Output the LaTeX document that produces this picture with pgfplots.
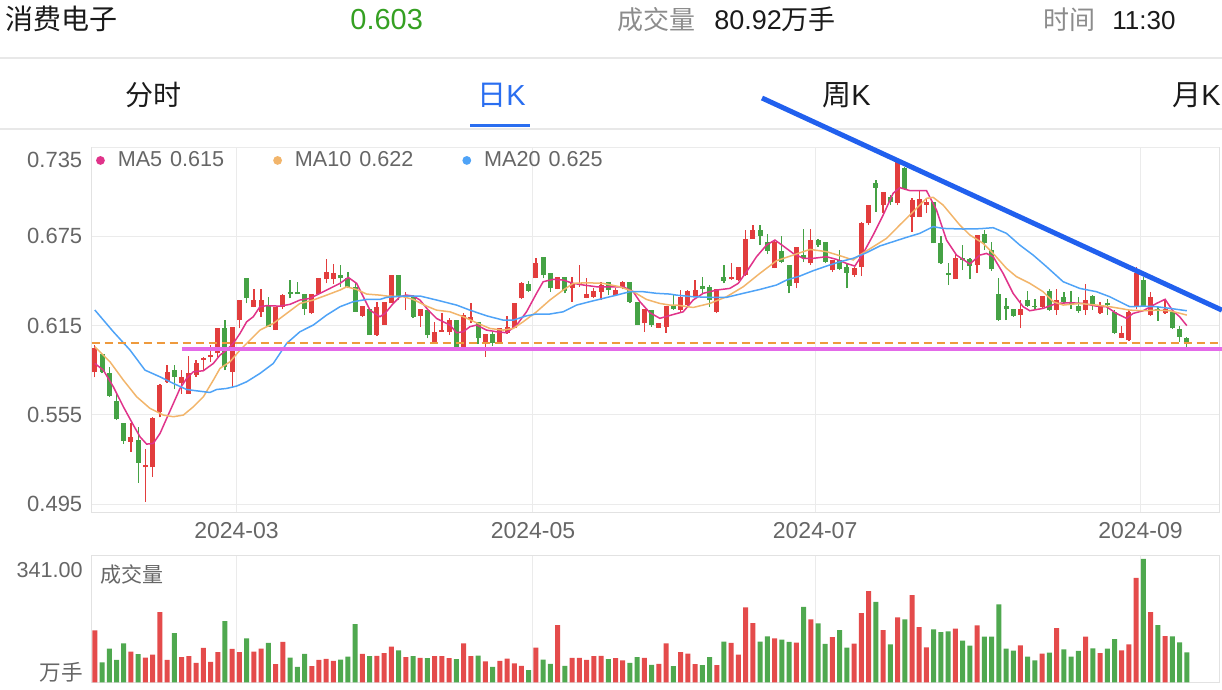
\documentclass[border=0pt]{standalone}
\usepackage{pgfplots}
\pgfplotsset{compat=1.18}
\usepackage{pgfplotstable}
\usepackage{fontspec}
\setmainfont{Liberation Sans}
\newfontfamily\cjk{Noto Sans CJK SC}

\definecolor{cred}{HTML}{E23D3D}
\definecolor{cgreen}{HTML}{45A245}
\definecolor{cvred}{HTML}{E44B4B}
\definecolor{cvgreen}{HTML}{4FA84F}
\definecolor{cma5}{HTML}{E0338A}
\definecolor{cma10}{HTML}{F2B56B}
\definecolor{cma20}{HTML}{4FA3F7}
\definecolor{ctrend}{HTML}{2160EE}
\definecolor{cmag}{HTML}{E46AE8}
\definecolor{clast}{HTML}{EE9A3D}
\definecolor{cgrid}{HTML}{EBEBEB}
\definecolor{cframe}{HTML}{E2E2E2}
\definecolor{clabel}{HTML}{666666}
\definecolor{chead}{HTML}{8C8C8C}
\definecolor{cblack}{HTML}{1A1A1A}
\definecolor{cup}{HTML}{35A022}
\definecolor{ctab}{HTML}{2A6EF0}
\definecolor{cline}{HTML}{E8E8E8}

\pgfplotstableread{
i O H L C V
0 0.5836 0.6019 0.5802 0.5997 140.1
1 0.5957 0.5957 0.5829 0.5836 53.5
2 0.5829 0.5874 0.5672 0.5677 91.0
3 0.5643 0.5695 0.5515 0.5520 60.6
4 0.5493 0.5493 0.5358 0.5374 105.3
5 0.5370 0.5493 0.5303 0.5403 83.0
6 0.5381 0.5466 0.5094 0.5229 75.8
7 0.5197 0.5318 0.4966 0.5213 66.9
8 0.5197 0.5538 0.5134 0.5531 74.9
9 0.5571 0.5755 0.5533 0.5750 189.2
10 0.5768 0.5885 0.5762 0.5840 60.6
11 0.5851 0.5885 0.5721 0.5806 133.0
12 0.5762 0.5851 0.5694 0.5806 67.8
13 0.5694 0.5945 0.5694 0.5829 70.5
14 0.5817 0.5918 0.5806 0.5900 52.6
15 0.5918 0.5940 0.5846 0.5934 92.8
16 0.5940 0.6019 0.5907 0.5952 55.3
17 0.5963 0.6131 0.5940 0.6131 81.2
18 0.6131 0.6187 0.5851 0.5873 165.1
19 0.5840 0.6142 0.5739 0.6142 90.1
20 0.6187 0.6322 0.6131 0.6322 81.2
21 0.6472 0.6472 0.6299 0.6333 118.7
22 0.6277 0.6393 0.6272 0.6322 83.0
23 0.6243 0.6393 0.6209 0.6322 91.0
24 0.6283 0.6344 0.6142 0.6142 106.2
25 0.6120 0.6277 0.6120 0.6277 49.0
26 0.6277 0.6362 0.6265 0.6355 108.9
27 0.6377 0.6456 0.6333 0.6362 66.9
28 0.6377 0.6445 0.6362 0.6362 41.9
29 0.6362 0.6362 0.6221 0.6265 76.7
30 0.6232 0.6362 0.6227 0.6362 43.7
31 0.6362 0.6472 0.6362 0.6472 60.6
32 0.6461 0.6597 0.6434 0.6512 63.3
33 0.6461 0.6564 0.6429 0.6501 58.0
34 0.6490 0.6557 0.6411 0.6467 61.5
35 0.6472 0.6512 0.6400 0.6411 69.6
36 0.6411 0.6445 0.6243 0.6243 157.1
37 0.6216 0.6283 0.6209 0.6283 76.7
38 0.6265 0.6265 0.6086 0.6086 70.5
39 0.6086 0.6306 0.6082 0.6277 71.4
40 0.6153 0.6306 0.6153 0.6306 78.5
41 0.6299 0.6490 0.6299 0.6490 96.3
42 0.6490 0.6490 0.6322 0.6344 86.5
43 0.6344 0.6377 0.6254 0.6355 67.8
44 0.6344 0.6355 0.6198 0.6209 70.5
45 0.6216 0.6265 0.6142 0.6261 66.0
46 0.6254 0.6254 0.6064 0.6086 65.1
47 0.6030 0.6176 0.6030 0.6108 70.5
48 0.6108 0.6232 0.6108 0.6120 70.5
49 0.6108 0.6198 0.6086 0.6187 65.1
50 0.6191 0.6191 0.5981 0.6008 62.4
51 0.6008 0.6232 0.6003 0.6221 105.3
52 0.6187 0.6303 0.6165 0.6209 70.5
53 0.6176 0.6176 0.6026 0.6064 72.2
54 0.6030 0.6097 0.5940 0.6097 56.2
55 0.6097 0.6108 0.6012 0.6030 41.9
56 0.6041 0.6131 0.6030 0.6131 58.0
57 0.6102 0.6216 0.6097 0.6138 64.2
58 0.6131 0.6299 0.6131 0.6299 50.8
59 0.6333 0.6445 0.6326 0.6438 44.6
60 0.6429 0.6451 0.6377 0.6384 33.0
61 0.6467 0.6602 0.6467 0.6568 93.7
62 0.6613 0.6613 0.6467 0.6490 61.5
63 0.6501 0.6501 0.6377 0.6400 49.9
64 0.6393 0.6474 0.6393 0.6474 154.4
65 0.6474 0.6474 0.6366 0.6384 44.6
66 0.6400 0.6474 0.6310 0.6434 66.0
67 0.6422 0.6557 0.6411 0.6434 66.0
68 0.6337 0.6467 0.6333 0.6362 60.6
69 0.6344 0.6400 0.6333 0.6382 70.5
70 0.6377 0.6445 0.6322 0.6422 71.4
71 0.6440 0.6445 0.6355 0.6389 62.4
72 0.6355 0.6400 0.6348 0.6389 65.1
73 0.6400 0.6451 0.6393 0.6445 58.9
74 0.6440 0.6445 0.6299 0.6310 52.6
75 0.6310 0.6310 0.6153 0.6153 67.8
76 0.6165 0.6259 0.6108 0.6259 66.0
77 0.6254 0.6254 0.6142 0.6153 47.2
78 0.6135 0.6165 0.6131 0.6165 49.9
79 0.6142 0.6283 0.6102 0.6283 105.3
80 0.6288 0.6355 0.6254 0.6265 43.7
81 0.6254 0.6389 0.6243 0.6344 81.2
82 0.6288 0.6389 0.6277 0.6382 77.6
83 0.6348 0.6456 0.6344 0.6389 49.0
84 0.6416 0.6478 0.6366 0.6395 46.3
85 0.6411 0.6422 0.6277 0.6322 67.8
86 0.6243 0.6395 0.6232 0.6395 46.3
87 0.6478 0.6557 0.6434 0.6451 109.7
88 0.6461 0.6568 0.6456 0.6478 106.2
89 0.6456 0.6546 0.6451 0.6541 74.9
90 0.6490 0.6792 0.6483 0.6729 202.6
91 0.6731 0.6826 0.6731 0.6792 159.8
92 0.6792 0.6826 0.6691 0.6752 109.7
93 0.6714 0.6763 0.6631 0.6653 124.0
94 0.6534 0.6725 0.6534 0.6714 118.7
95 0.6651 0.6754 0.6568 0.6579 115.1
96 0.6557 0.6557 0.6366 0.6418 108.9
97 0.6434 0.6680 0.6400 0.6680 107.1
98 0.6624 0.6796 0.6579 0.6602 203.5
99 0.6568 0.6796 0.6557 0.6725 169.6
100 0.6725 0.6731 0.6680 0.6691 158.9
101 0.6714 0.6714 0.6568 0.6579 103.5
102 0.6523 0.6590 0.6512 0.6590 122.3
103 0.6590 0.6658 0.6523 0.6528 141.0
104 0.6546 0.6568 0.6400 0.6505 93.7
105 0.6490 0.6546 0.6478 0.6534 104.4
106 0.6541 0.6848 0.6483 0.6837 186.6
107 0.6837 0.6960 0.6826 0.6960 246.4
108 0.7110 0.7128 0.6915 0.7077 216.9
109 0.6960 0.7050 0.6904 0.7050 141.0
110 0.7012 0.7027 0.6960 0.6983 102.6
111 0.6971 0.7263 0.6960 0.7251 175.0
112 0.7207 0.7218 0.7061 0.7065 169.6
113 0.6882 0.7005 0.6781 0.6994 235.7
114 0.6882 0.7061 0.6877 0.6998 149.0
115 0.6960 0.7005 0.6904 0.6983 94.6
116 0.6983 0.6983 0.6702 0.6702 142.8
117 0.6702 0.6752 0.6564 0.6568 135.6
118 0.6501 0.6568 0.6422 0.6490 137.4
119 0.6461 0.6635 0.6461 0.6602 144.6
120 0.6602 0.6691 0.6523 0.6590 112.4
121 0.6595 0.6602 0.6461 0.6550 99.0
122 0.6557 0.6758 0.6505 0.6758 153.5
123 0.6765 0.6792 0.6658 0.6702 123.1
124 0.6658 0.6714 0.6519 0.6528 123.1
125 0.6362 0.6467 0.6182 0.6187 210.7
126 0.6283 0.6337 0.6187 0.6259 91.0
127 0.6259 0.6265 0.6209 0.6214 85.6
128 0.6221 0.6322 0.6131 0.6265 99.9
129 0.6322 0.6384 0.6277 0.6283 69.6
130 0.6283 0.6326 0.6265 0.6277 58.9
131 0.6277 0.6348 0.6265 0.6348 77.6
132 0.6384 0.6393 0.6250 0.6254 80.3
133 0.6254 0.6393 0.6221 0.6322 146.4
134 0.6344 0.6377 0.6299 0.6310 89.2
135 0.6299 0.6384 0.6265 0.6288 69.6
136 0.6283 0.6344 0.6236 0.6250 84.8
137 0.6254 0.6429 0.6221 0.6322 123.1
138 0.6348 0.6355 0.6254 0.6288 91.9
139 0.6232 0.6306 0.6225 0.6283 78.5
140 0.6299 0.6326 0.6221 0.6288 91.0
141 0.6243 0.6254 0.6093 0.6102 116.9
142 0.6070 0.6147 0.6064 0.6102 86.5
143 0.6053 0.6254 0.6048 0.6243 102.6
144 0.6277 0.6546 0.6262 0.6501 282.1
145 0.6456 0.6478 0.6277 0.6277 333.0
146 0.6221 0.6377 0.6216 0.6344 189.2
147 0.6265 0.6277 0.6183 0.6250 154.4
148 0.6232 0.6322 0.6228 0.6261 124.9
149 0.6243 0.6254 0.6127 0.6131 124.0
150 0.6125 0.6147 0.6041 0.6075 108.0
151 0.6064 0.6075 0.6008 0.6026 80.9
}\kdata

\begin{document}
\begin{tikzpicture}
\useasboundingbox (0,0) rectangle (611pt,-345pt);
\begin{scope}[x=0.5pt,y=-0.5pt]
\node[anchor=base west, inner sep=0pt, text=cblack, font=\cjk\fontsize{14}{16}\selectfont] at (5,30) {消费电子};
\node[anchor=base west, inner sep=0pt, text=cup, font=\fontsize{14.5}{16}\selectfont] at (350,30) {0.603};
\node[anchor=base west, inner sep=0pt, text=chead, font=\cjk\fontsize{13}{15}\selectfont] at (617,30) {成交量};
\node[anchor=base west, inner sep=0pt, text=cblack, font=\fontsize{13.5}{15}\selectfont] at (714,30) {80.92{\cjk 万手}};
\node[anchor=base west, inner sep=0pt, text=chead, font=\cjk\fontsize{13}{15}\selectfont] at (1043,30) {时间};
\node[anchor=base west, inner sep=0pt, text=cblack, font=\fontsize{13}{15}\selectfont] at (1112,30) {11:30};
\draw[cline, line width=0.6pt] (0,58) -- (1222,58);
\node[anchor=base west, inner sep=0pt, text=cblack, font=\cjk\fontsize{14}{16}\selectfont] at (125,106) {分时};
\node[anchor=base west, inner sep=0pt, text=ctab, font=\fontsize{14.5}{16}\selectfont] at (477,106) {{\cjk 日}K};
\node[anchor=base west, inner sep=0pt, text=cblack, font=\fontsize{14.5}{16}\selectfont] at (822,106) {{\cjk 周}K};
\node[anchor=base west, inner sep=0pt, text=cblack, font=\fontsize{14.5}{16}\selectfont] at (1172,106) {{\cjk 月}K};
\fill[ctab] (470,124.5) rectangle (530,127.5);
\draw[cline, line width=0.6pt] (0,129) -- (1222,129);
\node[anchor=base east, inner sep=0pt, text=clabel, font=\fontsize{10.8}{12}\selectfont] at (83,577.5) {341.00};
\node[anchor=base east, inner sep=0pt, text=clabel, font=\cjk\fontsize{10.8}{12}\selectfont] at (83,680) {万手};
\node[anchor=base west, inner sep=0pt, text=clabel, font=\cjk\fontsize{10.5}{12}\selectfont] at (100,582) {成交量};
\end{scope}

\begin{axis}[
  at={(45.85pt,-256.15pt)}, anchor=south west,
  scale only axis, width=563.65pt, height=182.65pt,
  xmin=-0.43, xmax=155.45, ymin=0.4896, ymax=0.735,
  clip=false,
  axis line style={draw=cframe, line width=0.5pt},
  xtick={19.59,60.59,99.6,144.59},
  xticklabels={2024-03,2024-05,2024-07,2024-09},
  ytick={0.495,0.555,0.615,0.675},
  extra y ticks={0.735},
  extra y tick style={yticklabel style={yshift=-6.5pt}},
  grid=major,
  major grid style={draw=cgrid, line width=0.5pt},
  major tick length=0pt,
  /pgf/number format/assume math mode=true,
  yticklabel style={/pgf/number format/fixed, /pgf/number format/fixed zerofill, /pgf/number format/precision=3, font=\fontsize{11}{13}\selectfont, text=clabel, xshift=-1.2pt},
  xticklabel style={font=\fontsize{11.5}{13}\selectfont, text=clabel, yshift=-1.5pt},
  legend columns=3,
  legend style={at={(rel axis cs:0,1)}, anchor=north west, xshift=-1pt, yshift=2pt, draw=none, fill=none,
    font=\fontsize{10.8}{12}\selectfont, text=clabel,
    /tikz/every odd column/.append style={column sep=4.5pt},
    /tikz/every even column/.append style={column sep=22.5pt}},
  legend image code/.code={\fill (0pt,0pt) circle (1.8pt);},
]
% wicks
\addplot[forget plot, draw=none, mark=none, restrict expr to domain={\thisrow{C}-\thisrow{O}}{0:1},
  error bars/y dir=plus, error bars/y explicit, error bars/error mark=none,
  error bars/error bar style={draw=cred, line width=0.65pt, solid}]
  table[x=i, y=L, y error plus expr={\thisrow{H}-\thisrow{L}}] {\kdata};
\addplot[forget plot, draw=none, mark=none, restrict expr to domain={\thisrow{C}-\thisrow{O}}{-1:0},
  error bars/y dir=plus, error bars/y explicit, error bars/error mark=none,
  error bars/error bar style={draw=cgreen, line width=0.65pt, solid}]
  table[x=i, y=L, y error plus expr={\thisrow{H}-\thisrow{L}}] {\kdata};
% bodies
\addplot[forget plot, draw=none, mark=none, restrict expr to domain={\thisrow{C}-\thisrow{O}}{0:1},
  error bars/y dir=plus, error bars/y explicit, error bars/error mark=none,
  error bars/error bar style={draw=cred, line width=2.5pt, solid}]
  table[x=i, y=O, y error plus expr={\thisrow{C}-\thisrow{O}}] {\kdata};
\addplot[forget plot, draw=none, mark=none, restrict expr to domain={\thisrow{C}-\thisrow{O}}{-1:0},
  error bars/y dir=plus, error bars/y explicit, error bars/error mark=none,
  error bars/error bar style={draw=cgreen, line width=2.5pt, solid}]
  table[x=i, y=C, y error plus expr={\thisrow{O}-\thisrow{C}}] {\kdata};

% moving averages
\addplot[color=cma5, line width=0.75pt, mark=none] coordinates {
(0,0.5896) (1.18,0.5851) (2.56,0.5739) (3.95,0.5605) (5.33,0.5482) (6.25,0.5403) (7.17,0.5354) (8.09,0.5359) (9.02,0.5426) (9.94,0.5527) (10.86,0.5627) (11.78,0.5728) (12.7,0.5795) (13.63,0.5840) (15.01,0.5847) (16.39,0.5896) (17.31,0.5952) (18.23,0.5986) (19.15,0.6031) (20.08,0.6098) (21.0,0.6176) (21.92,0.6210) (22.84,0.6277) (23.76,0.6284) (25.61,0.6281) (26.99,0.6293) (28.37,0.6322) (29.76,0.6333) (31.14,0.6367) (32.52,0.6400) (33.9,0.6434) (35.05,0.6474) (36.2,0.6434) (37.13,0.6344) (38.05,0.6254) (39.43,0.6210) (40.12,0.6232) (41.27,0.6299) (42.19,0.6344) (43.11,0.6355) (44.03,0.6349) (44.96,0.6322) (46.11,0.6254) (47.26,0.6198) (49.1,0.6154) (50.03,0.6102) (50.95,0.6109) (51.87,0.6143) (52.79,0.6154) (54.17,0.6120) (55.56,0.6109) (56.94,0.6102) (58.33,0.6154) (59.7,0.6243) (61.08,0.6367) (62.0,0.6445) (63.39,0.6461) (64.77,0.6456) (66.15,0.6434) (67.53,0.6423) (69.38,0.6411) (71.22,0.6411) (73.06,0.6411) (74.45,0.6378) (75.37,0.6311) (76.75,0.6237) (78.13,0.6199) (80.0,0.6225) (81.36,0.6243) (82.74,0.6322) (84.13,0.6367) (85.97,0.6389) (87.81,0.6400) (88.97,0.6434) (90.12,0.6512) (91.5,0.6613) (92.88,0.6691) (94.04,0.6725) (95.19,0.6685) (96.57,0.6635) (97.95,0.6602) (99.33,0.6602) (101.17,0.6613) (102.56,0.6595) (103.94,0.6568) (105.09,0.6550) (106.24,0.6635) (107.63,0.6759) (109.01,0.6893) (110.39,0.7039) (111.31,0.7077) (112.7,0.7057) (115.0,0.7057) (116.38,0.6927) (117.77,0.6725) (119.15,0.6624) (121.0,0.6564) (122.38,0.6624) (123.3,0.6635) (124.22,0.6613) (125.6,0.6501) (126.98,0.6367) (128.37,0.6277) (129.29,0.6250) (131.13,0.6266) (132.97,0.6299) (134.82,0.6304) (136.66,0.6299) (138.5,0.6281) (139.88,0.6277) (141.27,0.6232) (142.65,0.6199) (143.57,0.6232) (144.96,0.6250) (146.8,0.6299) (148.0,0.6327) (149.0,0.6253) (150.0,0.6210) (151.0,0.6150)
};
\addlegendentry{MA5\hspace{4pt}0.615}
\addplot[color=cma10, line width=0.75pt, mark=none] coordinates {
(0,0.6008) (2.1,0.5907) (3.95,0.5784) (5.79,0.5672) (7.63,0.5594) (9.48,0.5549) (10.86,0.5538) (12.24,0.5549) (13.63,0.5605) (15.01,0.5672) (16.39,0.5784) (17.31,0.5863) (18.69,0.5907) (20.08,0.5986) (21.46,0.6053) (22.84,0.6120) (24.68,0.6165) (26.53,0.6232) (28.37,0.6299) (30.21,0.6322) (32.06,0.6355) (33.9,0.6389) (34.82,0.6411) (36.2,0.6393) (37.59,0.6362) (39.43,0.6355) (40.35,0.6349) (42.65,0.6344) (44.03,0.6326) (45.88,0.6281) (47.26,0.6254) (49.1,0.6243) (50.95,0.6210) (52.79,0.6169) (54.64,0.6131) (56.47,0.6120) (57.86,0.6131) (59.24,0.6176) (61.08,0.6243) (62.93,0.6322) (64.77,0.6389) (66.15,0.6434) (68.0,0.6438) (70.3,0.6434) (72.6,0.6411) (74.45,0.6378) (76.28,0.6326) (78.13,0.6299) (79.52,0.6288) (80.44,0.6288) (82.74,0.6272) (85.05,0.6299) (87.35,0.6344) (89.66,0.6411) (91.96,0.6501) (94.27,0.6586) (96.57,0.6624) (98.88,0.6662) (101.17,0.6647) (103.48,0.6613) (104.86,0.6591) (105.78,0.6624) (107.63,0.6680) (109.47,0.6736) (111.31,0.6826) (113.16,0.6915) (115.0,0.7005) (115.92,0.7012) (117.3,0.6960) (119.6,0.6826) (121.0,0.6759) (122.83,0.6703) (124.22,0.6635) (126.06,0.6535) (127.44,0.6479) (129.29,0.6434) (131.13,0.6378) (132.51,0.6311) (133.9,0.6288) (136.2,0.6299) (138.5,0.6288) (140.35,0.6277) (141.73,0.6266) (143.12,0.6254) (144.96,0.6250) (146.8,0.6254) (148.65,0.6250) (151.0,0.6221)
};
\addlegendentry{MA10\hspace{4pt}0.622}
\addplot[color=cma20, line width=0.75pt, mark=none] coordinates {
(0,0.6255) (2.56,0.6109) (4.87,0.5986) (6.94,0.5851) (9.02,0.5806) (10.86,0.5762) (12.7,0.5721) (14.08,0.5712) (15.92,0.5701) (16.85,0.5721) (18.23,0.5728) (19.61,0.5744) (21.0,0.5773) (22.84,0.5829) (24.68,0.5896) (26.53,0.6031) (28.37,0.6109) (30.21,0.6154) (32.06,0.6221) (33.9,0.6277) (35.74,0.6311) (37.59,0.6326) (39.43,0.6326) (40.35,0.6340) (42.65,0.6349) (44.96,0.6349) (47.26,0.6322) (50.03,0.6288) (51.87,0.6254) (54.17,0.6216) (56.47,0.6187) (57.86,0.6187) (59.7,0.6216) (61.08,0.6228) (62.93,0.6228) (64.77,0.6243) (66.61,0.6288) (68.45,0.6311) (70.3,0.6333) (72.14,0.6355) (73.98,0.6378) (75.83,0.6378) (77.67,0.6367) (79.52,0.6362) (80.44,0.6355) (82.74,0.6344) (85.05,0.6340) (87.35,0.6340) (89.66,0.6367) (91.96,0.6393) (94.27,0.6423) (95.65,0.6456) (97.49,0.6483) (99.33,0.6519) (101.17,0.6550) (103.02,0.6579) (104.86,0.6602) (106.71,0.6640) (108.55,0.6685) (110.39,0.6714) (112.24,0.6743) (114.08,0.6770) (115.92,0.6815) (117.3,0.6803) (120.07,0.6799) (122.38,0.6801) (124.22,0.6808) (126.06,0.6770) (127.91,0.6691) (129.75,0.6624) (131.6,0.6546) (133.9,0.6445) (136.2,0.6400) (138.5,0.6378) (140.35,0.6344) (142.19,0.6299) (143.12,0.6277) (144.96,0.6281) (146.8,0.6277) (148.65,0.6266) (151.0,0.6250)
};
\addlegendentry{MA20\hspace{4pt}0.625}

% last price and drawn lines
\addplot[forget plot, clast, line width=1pt, dash pattern=on 4pt off 2.5pt] coordinates {(-0.43,0.6030) (155.45,0.6030)};
\addplot[forget plot, cmag, line width=2pt] coordinates {(12.02,0.5994) (155.86,0.5994)};
\addplot[forget plot, ctrend, line width=2.5pt] coordinates {(92.26,0.7679) (155.86,0.6254)};
\end{axis}

\begin{axis}[
  at={(45.85pt,-341.15pt)}, anchor=south west,
  scale only axis, width=563.65pt, height=63.15pt,
  xmin=-0.43, xmax=155.45, ymin=0, ymax=341,
  axis line style={draw=cframe, line width=0.5pt},
  xtick={19.59,60.59,99.6,144.59},
  xticklabels={,,,},
  ytick=\empty,
  xmajorgrids,
  major grid style={draw=cgrid, line width=0.5pt},
  major tick length=0pt,
]
\addplot[forget plot, ybar, bar width=2.5pt, bar shift=0pt, fill=cvred, draw=none,
  restrict expr to domain={\thisrow{C}-\thisrow{O}}{0:1}] table[x=i, y=V] {\kdata};
\addplot[forget plot, ybar, bar width=2.5pt, bar shift=0pt, fill=cvgreen, draw=none,
  restrict expr to domain={\thisrow{C}-\thisrow{O}}{-1:0}] table[x=i, y=V] {\kdata};
\end{axis}
\end{tikzpicture}
\end{document}
